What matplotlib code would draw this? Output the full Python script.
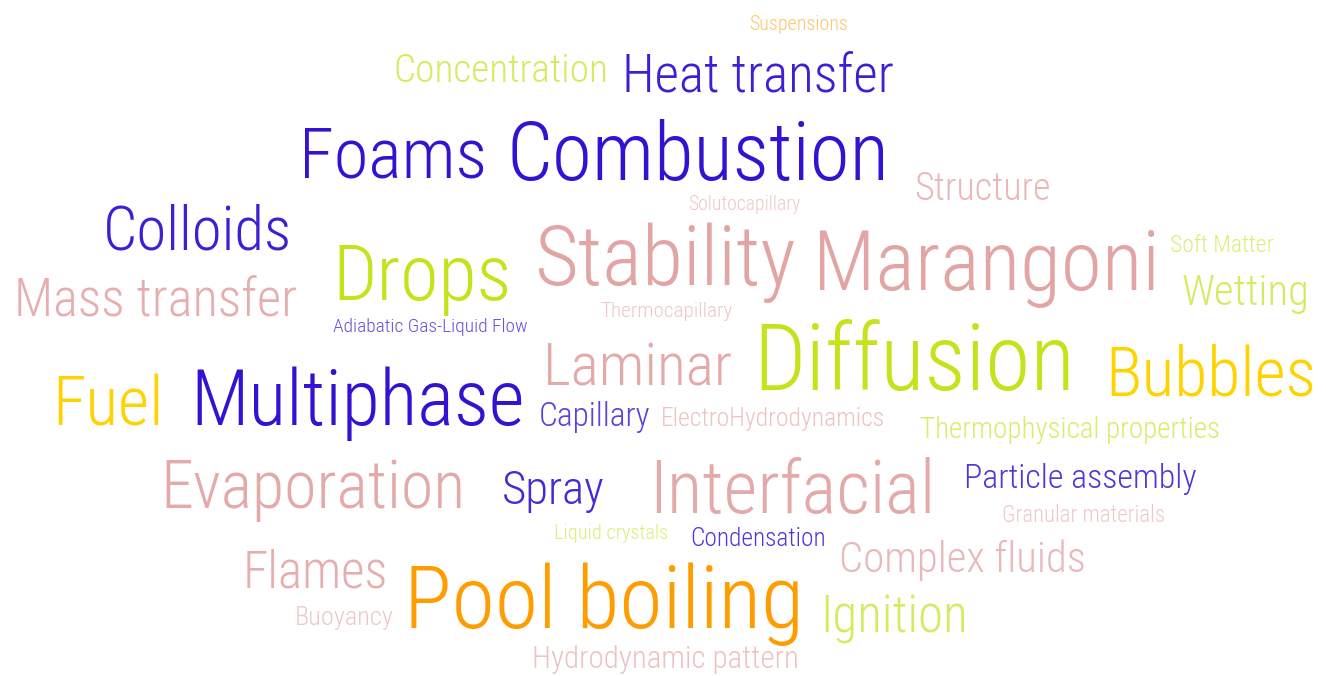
import matplotlib
matplotlib.use("Agg")
import matplotlib.pyplot as plt
from matplotlib import font_manager

# ---- data ----
words = ["Suspensions", "Concentration", "Heat transfer", "Foams", "Combustion",
         "Structure", "Solutocapillary", "Colloids", "Drops", "Stability",
         "Marangoni", "Soft Matter", "Wetting", "Mass transfer", "Thermocapillary",
         "Adiabatic Gas-Liquid Flow", "Fuel", "Multiphase", "Laminar", "Diffusion",
         "Bubbles", "Capillary", "ElectroHydrodynamics", "Thermophysical properties",
         "Evaporation", "Spray", "Interfacial", "Particle assembly",
         "Granular materials", "Liquid crystals", "Condensation", "Complex fluids",
         "Flames", "Pool boiling", "Buoyancy", "Ignition", "Hydrodynamic pattern"]

groups = ["orange", "green", "blue", "blue", "blue",
          "pink", "pink", "blue", "green", "pink",
          "pink", "green", "green", "pink", "pink",
          "blue", "gold", "blue", "pink", "green",
          "gold", "blue", "pink", "green",
          "pink", "blue", "pink", "blue",
          "pink", "green", "blue", "pink",
          "pink", "orange", "pink", "green", "pink"]

weights = [0.6, 0.7, 0.95, 1.0, 1.0,
           0.7, 0.55, 0.95, 1.0, 0.9,
           0.9, 0.6, 0.7, 0.8, 0.55,
           0.75, 1.0, 1.0, 0.85, 1.0,
           1.0, 0.8, 0.6, 0.65,
           0.85, 0.9, 0.85, 0.85,
           0.55, 0.6, 0.85, 0.7,
           0.8, 1.0, 0.55, 0.7, 0.6]

# layout boxes in pixels: (left, right, top, baseline)
layout = [(748, 850, 8, 30), (390, 612, 40, 82), (618, 898, 28, 92),
          (296, 490, 88, 177), (500, 895, 88, 180),
          (912, 1052, 155, 200), (686, 802, 188, 210), (100, 295, 180, 250),
          (330, 515, 195, 300), (530, 800, 200, 285),
          (808, 1165, 195, 290), (1168, 1275, 225, 252), (1180, 1312, 258, 305),
          (10, 302, 250, 315), (598, 735, 295, 317),
          (330, 530, 314, 332), (50, 165, 330, 425), (185, 530, 318, 425),
          (540, 735, 318, 385), (748, 1080, 300, 390),
          (1102, 1320, 300, 395), (537, 652, 395, 426), (657, 888, 398, 426),
          (916, 1225, 400, 438),
          (155, 470, 430, 508), (500, 606, 450, 504), (645, 940, 430, 513),
          (960, 1200, 450, 488),
          (1000, 1168, 497, 522), (552, 670, 521, 539), (688, 828, 520, 546),
          (835, 1090, 522, 572),
          (240, 390, 520, 588), (398, 810, 540, 628), (293, 395, 597, 625),
          (818, 970, 585, 632), (528, 803, 638, 668)]

palette = {"blue": "#3512d2", "pink": "#e09a9a", "green": "#c6e21a",
           "gold": "#ffd200", "orange": "#ff9c00"}

# ---- font choice ----
available = {f.name for f in font_manager.fontManager.ttflist}
family = "DejaVu Sans"
for cand in ["Roboto Condensed", "Liberation Sans Narrow", "Open Sans Condensed",
             "DejaVu Sans Condensed"]:
    if cand in available:
        family = cand
        break

W, H = 1326, 676
fig = plt.figure(figsize=(W / 100, H / 100), dpi=100)
ax = fig.add_axes([0, 0, 1, 1])
ax.set_xlim(0, W)
ax.set_ylim(H, 0)
ax.axis("off")
fig.patch.set_facecolor("white")

renderer = fig.canvas.get_renderer()
for word, grp, wgt, (x0, x1, y0, y1) in zip(words, groups, weights, layout):
    fs = (y1 - y0) * 72 / 100 / 0.72
    t = ax.text((x0 + x1) / 2, y1, word, ha="center", va="baseline",
                fontsize=fs, family=family, color=palette[grp], alpha=wgt,
                fontweight="light")
    bb = t.get_window_extent(renderer)
    scale_w = 0.97 * (x1 - x0) / bb.width
    scale_h = (y1 - y0) * 1.6 / bb.height
    t.set_fontsize(fs * min(scale_w, scale_h))

fig.savefig("out.png", dpi=100, facecolor="white")
